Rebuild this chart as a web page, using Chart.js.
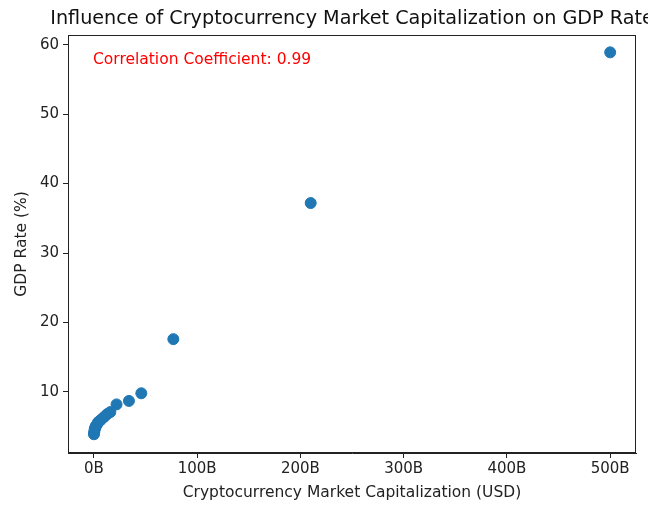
<!DOCTYPE html>
<html>
<head>
<meta charset="utf-8">
<script src="https://cdn.jsdelivr.net/npm/chart.js@4.4.0/dist/chart.umd.min.js"></script>
<style>
  body { margin: 0; background: #fff; }
  #wrap { width: 648px; height: 506px; }
</style>
</head>
<body>
<div id="wrap"><canvas id="scatter"></canvas></div>
<script>
// market cap in billions USD, GDP rate in %
const marketCap = [0.1, 0.3, 0.6, 1, 1.5, 2, 3, 4, 5.5, 7, 10, 13, 16, 22, 34, 46, 77, 210, 500];
const gdpRate = [3.9, 4.1, 4.4, 4.7, 4.9, 5.1, 5.3, 5.6, 5.8, 6.0, 6.4, 6.8, 7.1, 8.2, 8.7, 9.8, 17.6, 37.2, 58.9];
const xTicks = [0, 100, 200, 300, 400, 500];
const yTicks = [10, 20, 30, 40, 50, 60];
const titleText = 'Influence of Cryptocurrency Market Capitalization on GDP Rate';
const noteText = 'Correlation Coefficient: 0.99';

const FONT = 'DejaVu Sans';
Chart.defaults.font.family = FONT;
Chart.defaults.color = '#222';

const points = marketCap.map((v, i) => ({ x: v, y: gdpRate[i] }));

// frame, title and the red annotation
const decorations = {
  id: 'decorations',
  afterDraw(chart) {
    const { ctx, chartArea: a } = chart;
    ctx.save();
    ctx.strokeStyle = '#222';
    ctx.lineWidth = 1;
    ctx.strokeRect(a.left + 0.5, a.top + 0.5, a.right - a.left - 1, a.bottom - a.top - 1);

    ctx.fillStyle = '#111';
    ctx.font = '19.2px ' + FONT;
    ctx.textAlign = 'center';
    ctx.textBaseline = 'alphabetic';
    ctx.fillText(titleText, (a.left + a.right) / 2, 24);

    ctx.fillStyle = 'red';
    ctx.font = '15.5px ' + FONT;
    ctx.textAlign = 'left';
    ctx.fillText(noteText, a.left + 25, a.top + 29);
    ctx.restore();
  }
};

new Chart(document.getElementById('scatter'), {
  type: 'scatter',
  data: {
    datasets: [{
      data: points,
      backgroundColor: '#1f77b4',
      borderColor: '#1f77b4',
      pointRadius: 5.5,
      pointHoverRadius: 5.5
    }]
  },
  options: {
    responsive: true,
    maintainAspectRatio: false,
    animation: false,
    layout: { padding: { top: 35, right: 12, left: 12, bottom: 0 } },
    plugins: {
      legend: { display: false },
      tooltip: { enabled: false }
    },
    scales: {
      x: {
        type: 'linear',
        min: -25,
        max: 525,
        afterBuildTicks: s => { s.ticks = xTicks.map(v => ({ value: v })); },
        afterFit: s => { s.height = 53; },
        ticks: {
          callback: v => v + 'B',
          font: { size: 15 },
          color: '#222',
          padding: 2,
          maxRotation: 0
        },
        grid: { drawOnChartArea: false, drawTicks: true, tickLength: 5, color: '#222' },
        border: { display: true, color: '#222' },
        title: {
          display: true,
          text: 'Cryptocurrency Market Capitalization (USD)',
          font: { size: 15.5 },
          color: '#222',
          padding: { top: 1 }
        }
      },
      y: {
        type: 'linear',
        min: 1.2,
        max: 61.4,
        afterBuildTicks: s => { s.ticks = yTicks.map(v => ({ value: v })); },
        afterFit: s => { s.width = 56; },
        ticks: {
          font: { size: 15 },
          color: '#222',
          padding: 4
        },
        grid: { drawOnChartArea: false, drawTicks: true, tickLength: 5, color: '#222' },
        border: { display: true, color: '#222' },
        title: {
          display: true,
          text: 'GDP Rate (%)',
          font: { size: 15.5 },
          color: '#222',
          padding: { top: 1, bottom: 2 }
        }
      }
    }
  },
  plugins: [decorations]
});
</script>
</body>
</html>
